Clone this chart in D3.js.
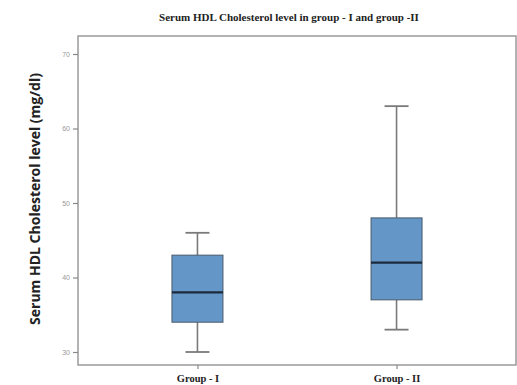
<!DOCTYPE html>
<html>
<head>
<meta charset="utf-8">
<script src="https://cdn.jsdelivr.net/npm/d3@7"></script>
<style>
  body { margin: 0; background: #fff; }
</style>
</head>
<body>
<script>
// box plot stats
var groups = ['Group - I', 'Group - II']
var lowWhisker = [30, 33]
var q1 = [34, 37]
var median = [38, 42]
var q3 = [43, 48]
var highWhisker = [46, 63]
var yTicks = [30, 40, 50, 60, 70]

var width = 517, height = 385
var frame = {left: 78, right: 516, top: 36, bottom: 365}

var svg = d3.select('body').append('svg')
  .attr('width', width)
  .attr('height', height)

var x = d3.scalePoint()
  .domain(groups)
  .range([frame.left, frame.right])
  .padding(0.6)

var y = d3.scaleLinear()
  .domain([30, 70])
  .range([352, 54])

// frame
svg.append('rect')
  .attr('x', frame.left)
  .attr('y', frame.top)
  .attr('width', frame.right - frame.left)
  .attr('height', frame.bottom - frame.top)
  .attr('fill', 'none')
  .attr('stroke', '#9a9a9a')
  .attr('stroke-width', 1.5)

// y axis ticks
var yAxis = svg.append('g')
  .attr('transform', `translate(${frame.left},0)`)
  .call(d3.axisLeft(y).tickValues(yTicks).tickSize(5).tickFormat(d3.format('d')))
yAxis.select('.domain').remove()
yAxis.selectAll('line').attr('stroke', '#888').attr('stroke-width', 1.2)
yAxis.selectAll('text')
  .attr('fill', '#999')
  .style('font-family', 'Liberation Sans')
  .style('font-size', '7px')

// x axis ticks
var xAxis = svg.append('g')
  .attr('transform', `translate(0,${frame.bottom})`)
  .call(d3.axisBottom(x).tickSize(4).tickPadding(6))
xAxis.select('.domain').remove()
xAxis.selectAll('line').attr('stroke', '#888').attr('stroke-width', 1.2)
xAxis.selectAll('text')
  .attr('fill', '#222')
  .style('font-family', 'Liberation Serif')
  .style('font-weight', 'bold')
  .style('font-size', '10.5px')

var boxW = 51, capW = 24

var box = svg.selectAll('g.box')
  .data(groups)
  .enter().append('g')
    .attr('class', 'box')

// whiskers
box.append('line')
  .attr('x1', d => x(d)).attr('x2', d => x(d))
  .attr('y1', (d, i) => y(highWhisker[i]))
  .attr('y2', (d, i) => y(q3[i]))
  .attr('stroke', '#7a7a7a').attr('stroke-width', 1.6)
box.append('line')
  .attr('x1', d => x(d)).attr('x2', d => x(d))
  .attr('y1', (d, i) => y(q1[i]))
  .attr('y2', (d, i) => y(lowWhisker[i]))
  .attr('stroke', '#7a7a7a').attr('stroke-width', 1.6)
// caps
box.append('line')
  .attr('x1', d => x(d) - capW / 2).attr('x2', d => x(d) + capW / 2)
  .attr('y1', (d, i) => y(highWhisker[i]))
  .attr('y2', (d, i) => y(highWhisker[i]))
  .attr('stroke', '#7a7a7a').attr('stroke-width', 1.8)
box.append('line')
  .attr('x1', d => x(d) - capW / 2).attr('x2', d => x(d) + capW / 2)
  .attr('y1', (d, i) => y(lowWhisker[i]))
  .attr('y2', (d, i) => y(lowWhisker[i]))
  .attr('stroke', '#7a7a7a').attr('stroke-width', 1.8)

// boxes
box.append('rect')
  .attr('x', d => x(d) - boxW / 2)
  .attr('width', boxW)
  .attr('y', (d, i) => y(q3[i]))
  .attr('height', (d, i) => y(q1[i]) - y(q3[i]))
  .attr('fill', '#6596c8')
  .attr('stroke', '#4a5a6a')
  .attr('stroke-width', 1)

// medians
box.append('line')
  .attr('x1', d => x(d) - boxW / 2).attr('x2', d => x(d) + boxW / 2)
  .attr('y1', (d, i) => y(median[i]))
  .attr('y2', (d, i) => y(median[i]))
  .attr('stroke', '#1c2a3c').attr('stroke-width', 2.2)

// title
svg.append('text')
  .attr('x', 289)
  .attr('y', 21)
  .attr('text-anchor', 'middle')
  .style('font-family', 'Liberation Serif')
  .style('font-weight', 'bold')
  .style('font-size', '11px')
  .attr('fill', '#222')
  .text('Serum HDL Cholesterol level in group - I and group -II')

// y label
svg.append('text')
  .attr('transform', 'translate(40,199) rotate(-90)')
  .attr('text-anchor', 'middle')
  .style('font-family', 'Open Sans')
  .style('font-weight', 'bold')
  .style('font-size', '14px')
  .attr('fill', '#222')
  .text('Serum HDL Cholesterol level (mg/dl)')
</script>
</body>
</html>
